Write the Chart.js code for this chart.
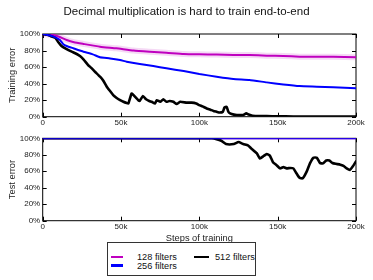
<!DOCTYPE html>
<html><head><meta charset="utf-8">
<script src="https://cdn.jsdelivr.net/npm/chart.js@4"></script>
<style>
html,body{margin:0;padding:0;background:#fff;}
#wrap{position:relative;width:373px;height:280px;overflow:hidden;font-family:"Liberation Sans",Arial,sans-serif;color:#111;}
canvas{position:absolute;left:0;top:0;}
#title{position:absolute;left:0;width:373px;top:4.5px;text-align:center;font-size:11.5px;white-space:nowrap;}
#legend{position:absolute;left:107px;top:242px;width:149px;height:34px;border:1px solid #333;box-sizing:border-box;background:#fff;}
.ln{position:absolute;height:2.5px;width:12px;}
.lt{position:absolute;font-size:9.2px;line-height:10px;white-space:nowrap;}
</style></head>
<body><div id="wrap">
<canvas id="c1" width="373" height="280"></canvas>
<canvas id="c2" width="373" height="280"></canvas>
<div id="title"></div>
<div id="legend"></div>
</div>
<script>
// ---- data (x in thousands of steps, y in %) ----
const chartTitle = 'Decimal multiplication is hard to train end-to-end';
const seriesNames = ['128 filters', '256 filters', '512 filters'];
const seriesColors = ['#bf00bf', '#0000ff', '#000000'];
const xTickLabels = ['0', '50k', '100k', '150k', '200k'];
const yTickLabels = ['0%', '20%', '40%', '60%', '80%', '100%'];

const train128X = [0,6.8,10,15.3,20,26,36.6,47,58,68.5,79,90,100,111,121.7,132,143,153.6,164,175,185.5,200];
const train128Y = [100,98.8,97,92.7,90,88,84.7,82.7,80,78.6,77.4,75.8,75.4,75.2,74.6,74.6,73.8,73.4,72.6,72.6,72.6,71.8];

const train256X = [0,4,6.8,9,11,13,15.3,19.6,26,32,36.6,43,49.4,53.6,62,70.6,79,90,100,111,121.7,132,143,153.6,164,175,185.5,200];
const train256Y = [100,98.5,96.8,95,92.7,88,85.5,82.7,78.6,75.4,71.8,70.5,68.5,66.5,63.7,61.3,58.5,55.2,51.6,48.4,45.6,44.4,41.5,39,37,36.3,35.5,34.3];

const train512X = [0,3,5,8,10,12,15,18.5,21.7,24,26,29,31,33.4,36.6,38.5,40.9,43,45,47,49.4,51.5,53.6,54.7,56.8,59,61,62,64,66,68,69.6,71.7,72.8,75,77,79,81,83.4,85.5,87.7,92,95,98,100,102,104.7,107,109,111,113,115,116,117.4,118.5,119.6,122,124,128,130,131,134,140,143,150,160,170,180,190,200];
const train512Y = [100,99,97.5,95.5,90,85.5,82,78.6,75.8,73,69.4,62.5,59,54.4,48.4,44,36.3,31,26.2,23,20,18,16.5,16,28,24,20,19.3,25,21,19,18,16,20,18,21,18,19,18,15.3,18,17,17,16,14,12.5,10,8.5,7,6,5,6,11,12,6,4,2.5,2,2,4,3,1.2,0.8,0.8,0.4,0.3,0.2,0.2,0.2,0.2];

const test128X = [0,200];
const test128Y = [100,100];
const test256X = [0,200];
const test256Y = [100,100];
const test512X = [0,100,108,111,114,117,122,125,128,131,133,136.6,138.7,141,143,145,147,149,151.5,153.6,155.7,158,160,162,164,166,168.5,170.6,172.8,175,177,179,181,183,185,187,190,192,194,196,198,200];
const test512Y = [100,100,100,99,97,93,93,95.5,93,91.5,88,82,75.5,78.5,81,79,71,68,63.5,65,63.5,64,63.5,57.5,52,51.5,59.5,69.6,76.5,76.5,70,69.6,73,73,70,69,68,66.4,63.5,61.5,66,72];

// ---- helpers ----
const pts = (xs, ys) => xs.map((x, i) => ({x, y: ys[i]}));
const FONT = 'Liberation Sans, Arial, sans-serif';

const framePlugin = {
  id: 'frame',
  beforeDatasetsDraw(chart) {
    const {ctx, chartArea: {left, right, top, bottom}, scales: {x, y}} = chart;
    ctx.save();
    ctx.strokeStyle = '#000';
    ctx.lineWidth = 1;
    ctx.strokeRect(left, top, right - left, bottom - top);
    const L = 4;
    ctx.beginPath();
    x.ticks.forEach(t => {
      const px = Math.round(x.getPixelForValue(t.value)) + 0.5;
      ctx.moveTo(px, bottom); ctx.lineTo(px, bottom - L);
      ctx.moveTo(px, top); ctx.lineTo(px, top + L);
    });
    y.ticks.forEach(t => {
      const py = Math.round(y.getPixelForValue(t.value)) + 0.5;
      ctx.moveTo(left, py); ctx.lineTo(left + L, py);
      ctx.moveTo(right, py); ctx.lineTo(right - L, py);
    });
    ctx.stroke();
    ctx.restore();
  }
};

function makeChart(id, plotTop, plotBottom, yTitle, showXTitle, d128, d256, d512, halo) {
  const datasets = [
    {label: seriesNames[2], data: d512, borderColor: seriesColors[2], borderWidth: 2.6, order: 1},
    {label: seriesNames[1], data: d256, borderColor: seriesColors[1], borderWidth: 2, order: 0},
    {label: seriesNames[0], data: d128, borderColor: seriesColors[0], borderWidth: 2, order: 2}
  ];
  if (halo) datasets.push({label: 'band', data: d128, borderColor: 'rgba(191,0,191,0.15)', borderWidth: 6, order: 3});
  return new Chart(document.getElementById(id), {
    type: 'line',
    data: {datasets},
    options: {
      responsive: false,
      animation: false,
      devicePixelRatio: 1,
      layout: {padding: {top: plotTop, right: 17, left: 0, bottom: 0}},
      elements: {point: {radius: 0}, line: {tension: 0.15, borderCapStyle: 'round', borderJoinStyle: 'round'}},
      plugins: {legend: {display: false}, tooltip: {enabled: false}, title: {display: false}},
      scales: {
        x: {
          type: 'linear', min: 0, max: 200,
          afterFit: s => { s.height = 280 - plotBottom; },
          grid: {display: false, drawTicks: false},
          border: {display: false},
          ticks: {stepSize: 50, autoSkip: false, maxRotation: 0, padding: 1, color: '#222',
                  font: {family: FONT, size: 8},
                  callback: (v) => xTickLabels[Math.round(v / 50)]},
          title: {display: showXTitle, text: 'Steps of training', color: '#222',
                  font: {family: FONT, size: 9.3}, padding: {top: 0, bottom: 36.4}}
        },
        y: {
          min: 0, max: 100,
          afterFit: s => { s.width = 42.7; },
          grid: {display: false, drawTicks: false},
          border: {display: false},
          ticks: {stepSize: 20, autoSkip: false, padding: 2.5, color: '#222',
                  font: {family: FONT, size: 8},
                  callback: (v) => yTickLabels[Math.round(v / 20)]},
          title: {display: true, text: yTitle, color: '#222',
                  font: {family: FONT, size: 9.3}, padding: {top: 6.7, bottom: 0}}
        }
      }
    },
    plugins: [framePlugin]
  });
}

makeChart('c1', 34, 116.7, 'Training error', false,
  pts(train128X, train128Y), pts(train256X, train256Y), pts(train512X, train512Y), true);
makeChart('c2', 138.3, 220.7, 'Test error', true,
  pts(test128X, test128Y), pts(test256X, test256Y), pts(test512X, test512Y), false);

// ---- title & legend ----
document.getElementById('title').textContent = chartTitle;
const lg = document.getElementById('legend');
const legendPos = [{lx: 3, ty: 14}, {lx: 3, ty: 22.5}, {lx: 86, ty: 14}];
seriesNames.forEach((name, i) => {
  const p = legendPos[i];
  const ln = document.createElement('div');
  ln.className = 'ln';
  ln.style.left = p.lx + 'px';
  ln.style.top = p.ty - 1.2 + 'px';
  ln.style.width = (i === 2 ? 15 : 12) + 'px';
  ln.style.background = seriesColors[i];
  lg.appendChild(ln);
  const t = document.createElement('div');
  t.className = 'lt';
  t.style.left = (i === 2 ? p.lx + 21 : p.lx + 26) + 'px';
  t.style.top = p.ty - 5 + 'px';
  t.textContent = name;
  lg.appendChild(t);
});
</script>
</body></html>
